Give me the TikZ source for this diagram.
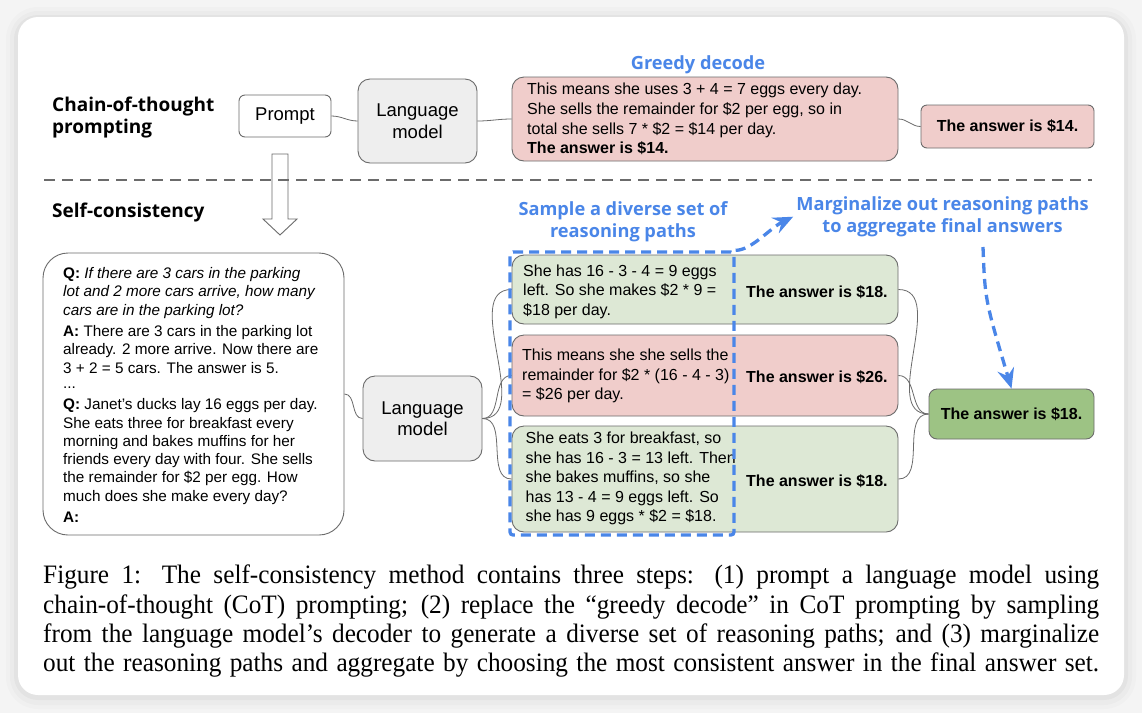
\documentclass[tikz,border=0pt]{standalone}
\usepackage{fontspec}
\setmainfont{Liberation Serif}
\newfontfamily\capf[FakeStretch=0.95]{Liberation Serif}
\newfontfamily\arialf{Liberation Sans}
\newfontfamily\headf{Open Sans}
\usetikzlibrary{arrows.meta}
\definecolor{bblue}{HTML}{4A86E8}
\definecolor{pinkf}{HTML}{F0CDCB}
\definecolor{greenl}{HTML}{DDE8D5}
\definecolor{greend}{HTML}{9DC384}
\definecolor{grayf}{HTML}{EEEEEE}
\definecolor{edgec}{HTML}{6B6B6B}
\definecolor{bgc}{HTML}{F4F4F4}
\begin{document}
\begin{tikzpicture}[x=1pt,y=-1pt,
  box/.style={draw=edgec, line width=0.9pt, rounded corners=#1, inner sep=0pt},
  box/.default=6pt,
  conn/.style={draw=edgec, line width=0.8pt},
  bodyf/.style={font=\arialf\fontsize{16}{19.4}\selectfont},
  lmf/.style={font=\arialf\fontsize{18.5}{21.5}\selectfont},
  txt/.style={anchor=west, align=left, inner sep=0pt, bodyf},
  anstxt/.style={anchor=west, inner sep=0pt, font=\arialf\bfseries\fontsize{16}{19}\selectfont},
  headl/.style={font=\headf\bfseries\fontsize{19}{22}\selectfont},
  bluel/.style={text=bblue, align=center, inner sep=3pt, font=\headf\bfseries\fontsize{18.2}{22}\selectfont},
  bluedash/.style={draw=bblue, line width=3.3pt, dash pattern=on 10pt off 6pt},
  bluearrow/.style={bluedash, -{Stealth[length=20pt,width=17pt,inset=7pt]}}
]
\useasboundingbox (0,0) rectangle (1142,713);
\fill[bgc] (0,0) rectangle (1142,713);
\fill[black, opacity=0.015, rounded corners=32pt] (6,7) rectangle (1136,709);
\fill[black, opacity=0.02, rounded corners=28pt] (10,11) rectangle (1132,705);
\fill[black, opacity=0.03, rounded corners=24pt] (14,15) rectangle (1128,700);
\fill[white, rounded corners=20pt] (18,17) rectangle (1124,695);

% headings
\node[headl, anchor=west, align=left, inner sep=0pt] (cotl) at (52,118) {Chain-of-thought\\prompting};
\node[headl, anchor=west, inner sep=0pt] (scl) at (52,213) {Self-consistency};

% top row
\node[box=6pt, fill=white, minimum width=92, minimum height=42, lmf] (prompt) at (285,116) {Prompt};
\node[box=12pt, fill=grayf, minimum width=119, minimum height=84, align=center, lmf] (lm1) at (417.5,121) {Language\\model};
\node[box=12pt, fill=pinkf, minimum width=386, minimum height=84] (greedy) at (705,119) {};
\node[txt, font=\arialf\fontsize{16}{19.7}\selectfont] (greedyt) at (527,119) {This means she uses 3 + 4 = 7 eggs every day.\\She sells the remainder for \$2 per egg, so in\\total she sells 7 * \$2 = \$14 per day.\\\textbf{The answer is \$14.}};
\node[box=6pt, fill=pinkf, minimum width=173, minimum height=43, font=\arialf\bfseries\fontsize{16}{19}\selectfont] (ans1) at (1007.5,126.5) {The answer is \$14.};
\node[bluel] (gdl) at (698,65) {Greedy decode};

\draw[conn] (prompt.east) to[out=0,in=180] (lm1.west);
\draw[conn] (lm1.east) to[out=0,in=180] (greedy.west);
\draw[conn] (greedy.east) to[out=0,in=180] (ans1.west);

% separator and hollow arrow
\draw[edgec, line width=0.9pt, fill=white] (272,154) -- (288,154) -- (288,219) -- (297,219) -- (280,235) -- (263,219) -- (272,219) -- cycle;
\draw[edgec, line width=2.2pt, dash pattern=on 11pt off 7pt] (44,180) -- (1092,180);

% question box
\node[box=25pt, fill=white, minimum width=301, minimum height=282] (qbox) at (193.5,394) {};
\node[txt, font=\arialf\fontsize{15.3}{18.3}\selectfont] (qtext) at (63,395) {\textbf{Q:} \textit{If there are 3 cars in the parking}\\
\textit{lot and 2 more cars arrive, how many}\\
\textit{cars are in the parking lot?}\\[3pt]
\textbf{A:} There are 3 cars in the parking lot\\
already. 2 more arrive. Now there are\\
3 + 2 = 5 cars. The answer is 5.\\[-3pt]
...\\[3pt]
\textbf{Q:} Janet’s ducks lay 16 eggs per day.\\
She eats three for breakfast every\\
morning and bakes muffins for her\\
friends every day with four. She sells\\
the remainder for \$2 per egg. How\\
much does she make every day?\\[3pt]
\textbf{A:}};

\node[box=12pt, fill=grayf, minimum width=119, minimum height=85, align=center, lmf] (lm2) at (422.5,418.5) {Language\\model};

% reasoning boxes
\node[box=12pt, fill=greenl, minimum width=386, minimum height=69] (r1) at (705,289.5) {};
\node[box=12pt, fill=pinkf, minimum width=386, minimum height=81] (r2) at (705,375.5) {};
\node[box=12pt, fill=greenl, minimum width=386, minimum height=106] (r3) at (705,479) {};
\node[txt] (r1t) at (523,291.5) {She has 16 - 3 - 4 = 9 eggs\\left. So she makes \$2 * 9 =\\\$18 per day.};
\node[txt] (r2t) at (522,376) {This means she she sells the\\remainder for \$2 * (16 - 4 - 3)\\= \$26 per day.};
\node[txt] (r3t) at (525.5,478.5) {She eats 3 for breakfast, so\\she has 16 - 3 = 13 left. Then\\she bakes muffins, so she\\has 13 - 4 = 9 eggs left. So\\she has 9 eggs * \$2 = \$18.};
\node[anstxt] (r1a) at (746,292) {The answer is \$18.};
\node[anstxt] (r2a) at (746,377) {The answer is \$26.};
\node[anstxt] (r3a) at (746,481) {The answer is \$18.};

\node[box=8pt, fill=greend, minimum width=165, minimum height=50, font=\arialf\bfseries\fontsize{16}{19}\selectfont] (final) at (1011.5,414) {The answer is \$18.};

\draw[conn] (qbox.east) to[out=0,in=180] (lm2.west);
\draw[conn] (lm2.east) to[out=0,in=180] (r1.west);
\draw[conn] (lm2.east) to[out=0,in=180] (r2.west);
\draw[conn] (lm2.east) to[out=0,in=180] (r3.west);
\draw[conn] (r1.east) to[out=0,in=180] (final.west);
\draw[conn] (r2.east) to[out=0,in=180] (final.west);
\draw[conn] (r3.east) to[out=0,in=180] (final.west);

% blue annotations
\node[bluel] (sampl) at (623,221.5) {Sample a diverse set of\\reasoning paths};
\node[bluel] (margl) at (942.5,216.7) {Marginalize out reasoning paths\\to aggregate final answers};
\node[bluedash, minimum width=224, minimum height=283, inner sep=0pt, rounded corners=3pt] (samp) at (622,393.5) {};
\draw[bluearrow] (samp.north east) .. controls (752,250) and (770,228) .. (margl.west);
\coordinate (m2) at (983,247);
\draw[bluearrow] (m2) .. controls (985,300) .. (final.north);

% caption
\node[anchor=north west, text width=1056pt, inner sep=0pt, align=justify, font=\capf\fontsize{26.6}{29.2}\selectfont] (cap) at (43,565) {\parfillskip=0pt Figure 1: The self-consistency method contains three steps: (1) prompt a language model using\linebreak chain-of-thought (CoT) prompting; (2) replace the “greedy decode” in CoT prompting by sampling\linebreak from the language model’s decoder to generate a diverse set of reasoning paths; and (3) marginalize\linebreak out the reasoning paths and aggregate by choosing the most consistent answer in the final answer set.\par};
\end{tikzpicture}
\end{document}
